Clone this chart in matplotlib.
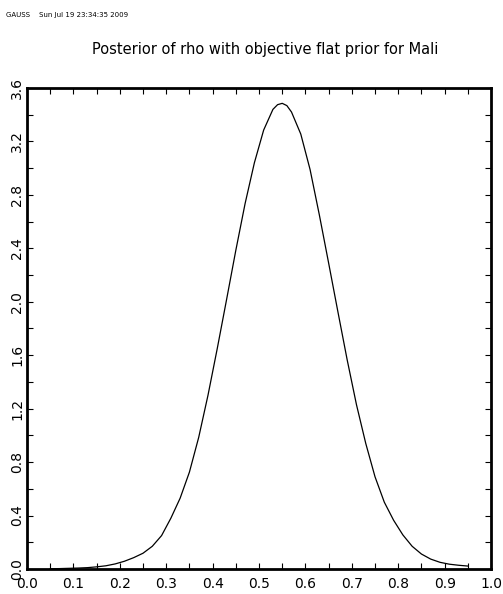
import matplotlib
matplotlib.use("Agg")
import matplotlib.pyplot as plt
import numpy as np

# values
rho = np.array([0.05, 0.07, 0.09, 0.11, 0.13, 0.15, 0.17, 0.19, 0.21, 0.23,
                0.25, 0.27, 0.29, 0.31, 0.33, 0.35, 0.37, 0.39, 0.41, 0.43,
                0.45, 0.47, 0.49, 0.51, 0.53, 0.54, 0.55, 0.56, 0.57, 0.59,
                0.61, 0.63, 0.65, 0.67, 0.69, 0.71, 0.73, 0.75, 0.77, 0.79,
                0.81, 0.83, 0.85, 0.87, 0.89, 0.91, 0.93, 0.95])
dens = np.array([0.002, 0.003, 0.005, 0.007, 0.010, 0.016, 0.024, 0.038, 0.058, 0.085,
                 0.118, 0.170, 0.250, 0.380, 0.530, 0.725, 0.985, 1.300, 1.650, 2.015,
                 2.385, 2.735, 3.040, 3.285, 3.440, 3.475, 3.485, 3.468, 3.420, 3.255,
                 2.990, 2.650, 2.290, 1.925, 1.565, 1.230, 0.940, 0.690, 0.500, 0.365,
                 0.255, 0.170, 0.112, 0.074, 0.050, 0.036, 0.028, 0.022])

xticks = np.arange(0, 1.01, 0.1)
yticks = np.arange(0, 3.61, 0.4)

fig = plt.figure(figsize=(5.03, 5.94), dpi=100)
ax = fig.add_axes([0.0537, 0.0421, 0.9225, 0.8098])

ax.plot(rho, dens, color="black", linewidth=0.9)
ax.set_xlim(0, 1.0)
ax.set_ylim(0, 3.6)

ax.set_xticks(xticks)
ax.set_xticklabels(["%.1f" % v for v in xticks], fontsize=10)
ax.set_xticks(np.arange(0.05, 1.0, 0.1), minor=True)
ax.set_yticks(yticks)
ax.set_yticklabels(["%.1f" % v for v in yticks], fontsize=10, rotation=90, va="center")
ax.set_yticks(np.arange(0.2, 3.6, 0.4), minor=True)

ax.tick_params(which="both", direction="in", length=4, width=0.8,
               top=True, right=True)
ax.tick_params(axis="x", pad=6)
ax.tick_params(axis="y", pad=2)
for s in ax.spines.values():
    s.set_linewidth(2)

fig.text(0.5265, 0.9175, "Posterior of rho with objective flat prior for Mali",
         ha="center", va="center", fontsize=10.5)
fig.text(0.012, 0.974, "GAUSS    Sun Jul 19 23:34:35 2009",
         ha="left", va="center", fontsize=5)

fig.savefig("out.png", dpi=100)
